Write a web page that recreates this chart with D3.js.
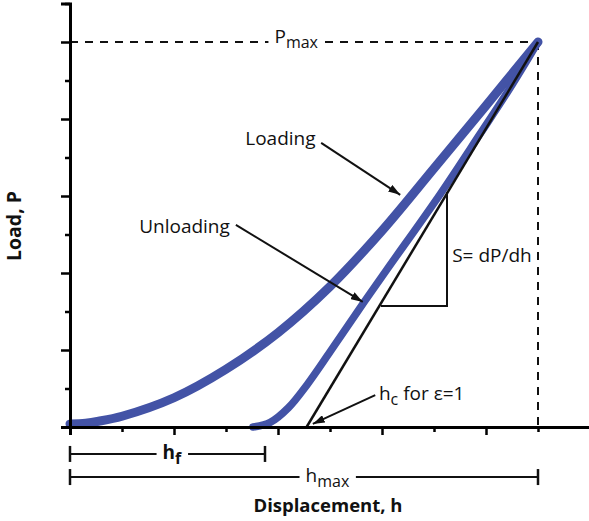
<!DOCTYPE html>
<html>
<head>
<meta charset="utf-8">
<script src="https://cdn.jsdelivr.net/npm/d3@7"></script>
<style>
body { margin: 0; background: #fff; }
text { font-family: "Open Sans", sans-serif; fill: #111; }
</style>
</head>
<body>
<svg class="chart"></svg>
<script>
// load / displacement readings (arbitrary units)
var loadH = [0.0, 0.3, 0.55, 1.0, 2.0, 3.0, 4.0, 5.0, 6.0, 7.0, 8.0, 9.0];
var loadP = [0.08, 0.1, 0.15, 0.28, 0.76, 1.5, 2.45, 3.65, 5.1, 6.72, 8.35, 10.0];
var unloadH = [3.52, 3.85, 4.2, 4.56, 5.0, 5.52, 6.1, 7.12, 7.88, 8.46, 9.0];
var unloadP = [0.0, 0.12, 0.5, 1.1, 1.95, 2.98, 4.1, 6.05, 7.6, 8.8, 10.0];
var tangentH = [4.55, 9.0];
var tangentP = [0, 10.0];
var slopeH = [5.98, 7.25, 7.25];
var slopeP = [3.14, 3.14, 6.1];
var hMax = 9, pMax = 10, hF = 3.75;
var xTicks = d3.range(0, 10);
var yTicks = d3.range(0, 12);

var W = 589, H = 521;
var svg = d3.select(".chart").attr("width", W).attr("height", H);

var x = d3.scaleLinear().domain([0, 10]).range([70, 590]);
var y = d3.scaleLinear().domain([0, 11]).range([427, 3.5]);

var defs = svg.append("defs");
defs.append("marker")
	.attr("id", "arr")
	.attr("viewBox", "0 0 12 8")
	.attr("refX", 12).attr("refY", 4)
	.attr("markerWidth", 12).attr("markerHeight", 8)
	.attr("markerUnits", "userSpaceOnUse")
	.attr("orient", "auto")
	.append("path").attr("d", "M0,0 L12,4 L0,8 z").attr("fill", "#111");

// dashed Pmax / hmax guides
svg.append("line")
	.attr("x1", x(0)).attr("x2", x(hMax))
	.attr("y1", y(pMax)).attr("y2", y(pMax))
	.attr("stroke", "#111").attr("stroke-width", 2).attr("stroke-dasharray", "8,7");
svg.append("line")
	.attr("x1", x(hMax)).attr("x2", x(hMax))
	.attr("y1", y(pMax)).attr("y2", y(0))
	.attr("stroke", "#111").attr("stroke-width", 2).attr("stroke-dasharray", "8,7");

// curves
var line = d3.line().x(function(d) { return x(d[0]); }).y(function(d) { return y(d[1]); })
	.curve(d3.curveCatmullRom);

svg.append("path")
	.datum(d3.zip(loadH, loadP))
	.attr("d", line)
	.attr("fill", "none").attr("stroke", "#4353a6").attr("stroke-width", 9)
	.attr("stroke-linecap", "round");
svg.append("path")
	.datum(d3.zip(unloadH, unloadP))
	.attr("d", line)
	.attr("fill", "none").attr("stroke", "#4353a6").attr("stroke-width", 7.5)
	.attr("stroke-linecap", "round");

// tangent line and slope triangle
svg.append("path")
	.datum(d3.zip(tangentH, tangentP))
	.attr("d", d3.line().x(function(d) { return x(d[0]); }).y(function(d) { return y(d[1]); }))
	.attr("fill", "none").attr("stroke", "#111").attr("stroke-width", 2.5);
svg.append("path")
	.datum(d3.zip(slopeH, slopeP))
	.attr("d", d3.line().x(function(d) { return x(d[0]); }).y(function(d) { return y(d[1]); }))
	.attr("fill", "none").attr("stroke", "#111").attr("stroke-width", 2);

// axes
var xAxis = svg.append("g")
	.attr("transform", "translate(0," + y(0) + ")")
	.call(d3.axisBottom(x).tickValues(xTicks).tickFormat("").tickSizeOuter(0).tickSize(8));
xAxis.select(".domain").attr("stroke-width", 3);
xAxis.selectAll(".tick line").attr("stroke-width", 2.5)
	.attr("y2", function(d) { return d % 2 == 0 ? 8 : 5; });

var yAxis = svg.append("g")
	.attr("transform", "translate(" + x(0) + ",0)")
	.call(d3.axisLeft(y).tickValues(yTicks).tickFormat("").tickSizeOuter(0).tickSize(9));
yAxis.select(".domain").attr("stroke-width", 3);
yAxis.selectAll(".tick line").attr("stroke-width", 2.5)
	.attr("x2", function(d) { return d % 2 == 0 ? -9 : -5; });

// labels with subscripts
function subLabel(px, py, main, sub, anchor, bold, bg) {
	var t = svg.append("text")
		.attr("x", px).attr("y", py)
		.attr("text-anchor", anchor)
		.style("font-size", "19px")
		.style("font-weight", bold ? "bold" : "normal");
	t.append("tspan").text(main);
	if (sub) t.append("tspan").attr("dy", 5).style("font-size", "16px").text(sub);
	if (bg) {
		var b = t.node().getBBox();
		svg.insert("rect", function() { return t.node(); })
			.attr("x", b.x - 6).attr("y", b.y + 3).attr("width", b.width + 12).attr("height", b.height - 6)
			.attr("fill", "#fff");
	}
	return t;
}

subLabel(x(4.35), y(pMax) + 1, "P", "max", "middle", false, true);

svg.append("text").attr("x", x(3.37)).attr("y", y(7.32)).style("font-size", "19px").text("Loading");
svg.append("text").attr("x", x(1.33)).attr("y", y(5.04)).style("font-size", "19px").text("Unloading");
svg.append("text").attr("x", x(7.35)).attr("y", y(4.29)).style("font-size", "19px").text("S= dP/dh");
var hc = subLabel(x(5.94), y(0.7), "h", "c", "start", false, false);
hc.append("tspan").attr("dy", -5).text(" for ε=1");

// arrows
var arrows = [
	[4.83, 7.38, 6.35, 6.03],
	[3.19, 5.25, 5.63, 3.25],
	[5.87, 0.83, 4.67, 0.08]
];
svg.selectAll(".arrow").data(arrows).enter().append("line")
	.attr("class", "arrow")
	.attr("x1", function(d) { return x(d[0]); }).attr("y1", function(d) { return y(d[1]); })
	.attr("x2", function(d) { return x(d[2]); }).attr("y2", function(d) { return y(d[3]); })
	.attr("stroke", "#111").attr("stroke-width", 2)
	.attr("marker-end", "url(#arr)");

// dimension brackets below the axis
function bracket(h, p, label, sub, cx, bold) {
	var g = svg.append("g");
	g.append("line").attr("x1", x(0)).attr("x2", x(h)).attr("y1", y(p)).attr("y2", y(p))
		.attr("stroke", "#111").attr("stroke-width", 2);
	[0, h].forEach(function(v) {
		g.append("line").attr("x1", x(v)).attr("x2", x(v)).attr("y1", y(p) - 8).attr("y2", y(p) + 8)
			.attr("stroke", "#111").attr("stroke-width", 2.5);
	});
	subLabel(x(cx), y(p) + 5, label, sub, "middle", bold, true);
}
bracket(hF, -0.7, "h", "f", 1.96, true);
bracket(hMax, -1.3, "h", "max", 4.95, false);

// axis titles
svg.append("text")
	.attr("x", 328).attr("y", 512)
	.attr("text-anchor", "middle")
	.style("font-size", "18.5px").style("font-weight", "bold")
	.text("Displacement, h");
svg.append("text")
	.attr("transform", "translate(21,226) rotate(-90)")
	.attr("text-anchor", "middle")
	.style("font-size", "19.5px").style("font-weight", "bold")
	.text("Load, P");
</script>
</body>
</html>
